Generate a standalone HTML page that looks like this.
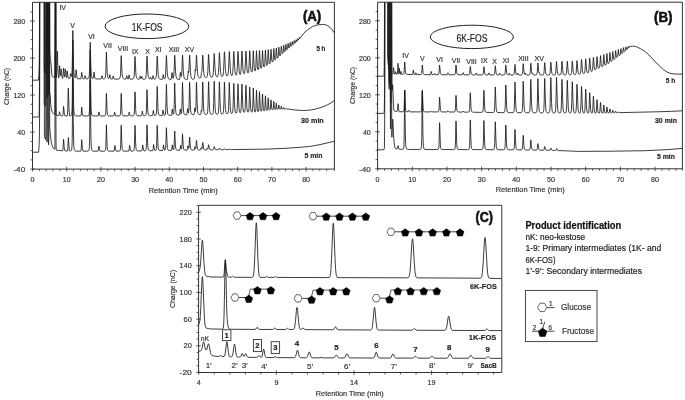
<!DOCTYPE html>
<html><head><meta charset="utf-8"><style>
html,body{margin:0;padding:0;background:#fff;width:685px;height:400px;overflow:hidden}
svg text{font-family:"Liberation Sans", sans-serif}
svg{will-change:transform}
</style></head><body>
<svg width="685" height="400" viewBox="0 0 685 400" style="display:block">
<defs>
<clipPath id="cA"><rect x="32.5" y="2.3" width="301.9" height="166.79999999999998"/></clipPath>
<clipPath id="cB"><rect x="377.6" y="2.2" width="304.79999999999995" height="166.60000000000002"/></clipPath>
<clipPath id="cC"><rect x="198.6" y="205.3" width="303.20000000000005" height="167.2"/></clipPath>
</defs>
<g clip-path="url(#cA)" fill="none" stroke="#1a1a1a" stroke-width="0.85" stroke-linejoin="round">
<path d="M32.50,80.20 38.26,80.15 38.50,79.06 38.86,75.54 39.22,67.39 39.46,37.72 39.58,-8.00 40.06,-301.35 40.18,-318.31 40.30,-324.73 40.54,-327.49 40.66,-327.49 41.50,-326.43 42.58,-325.38 43.42,-324.80 44.14,-324.54 44.26,69.83 44.74,71.98 45.34,73.31 45.46,73.42 45.58,73.11 45.70,70.33 45.82,56.87 46.30,-227.73 46.78,43.24 46.90,54.54 47.14,59.15 47.26,56.29 47.38,34.63 47.74,-214.62 47.86,-215.19 48.22,29.80 48.34,50.67 48.46,53.94 48.58,53.87 48.70,53.07 48.94,5.00 49.30,-229.85 49.78,42.97 49.90,53.50 50.02,55.18 50.38,59.37 50.74,61.08 51.94,75.17 52.06,75.99 52.30,76.62 53.14,76.92 54.58,77.19 54.70,77.12 54.82,76.32 54.94,71.33 55.18,-6.06 55.42,-199.49 55.54,-216.57 55.90,37.03 56.02,67.47 56.14,75.94 56.26,77.57 56.38,77.64 56.50,76.75 56.74,72.47 57.34,51.19 57.94,68.93 58.30,75.15 58.66,78.03 58.78,77.91 58.90,77.17 59.14,74.56 59.62,65.74 60.34,75.31 60.46,75.79 60.58,75.79 60.70,75.31 61.18,68.82 61.90,75.95 62.14,77.38 62.50,78.42 62.62,78.47 62.74,78.27 62.86,77.74 63.10,75.74 63.58,67.94 64.18,74.75 64.54,76.75 64.78,75.85 64.90,74.71 65.26,68.88 65.38,69.23 65.98,75.80 66.34,77.73 66.46,77.73 66.58,77.35 66.70,76.59 67.18,70.91 67.90,76.60 68.26,78.13 68.50,78.56 69.46,78.55 69.70,78.33 70.06,76.90 70.54,73.58 71.14,76.28 71.38,76.55 71.62,76.11 71.98,72.86 72.22,66.79 72.82,30.47 73.54,65.50 73.90,72.78 74.26,75.74 74.50,76.73 74.86,77.57 75.10,77.89 75.22,77.88 75.34,77.57 75.70,74.91 76.06,69.72 76.18,70.06 76.78,76.12 77.02,77.55 77.38,78.63 80.62,78.84 80.86,78.68 81.34,76.19 81.70,72.36 82.42,77.33 82.78,78.53 83.14,78.88 83.98,78.88 84.22,78.71 84.58,77.70 84.94,75.79 85.06,75.67 85.78,78.18 86.14,78.74 86.38,78.85 87.70,78.70 88.42,78.33 88.90,77.52 89.14,76.53 89.38,74.49 89.62,69.89 90.22,42.36 90.82,65.61 91.18,73.11 91.42,75.38 91.78,77.08 92.26,78.04 92.98,78.57 93.22,78.29 93.46,77.13 93.94,72.18 94.06,71.95 94.66,76.78 95.02,78.35 95.38,78.92 101.02,79.00 101.26,78.77 101.50,78.13 101.98,75.64 102.58,77.79 103.18,78.88 103.54,78.93 104.38,78.73 104.74,78.49 105.10,77.95 105.34,77.18 105.58,75.61 105.82,72.10 106.42,52.04 107.02,68.89 107.38,74.55 107.86,77.29 108.22,78.08 108.82,78.63 109.06,78.44 109.30,77.70 109.78,74.61 110.50,77.89 110.74,78.54 111.10,79.03 112.18,79.09 112.42,78.93 112.78,77.93 113.14,76.02 113.26,75.91 113.86,78.14 114.10,78.68 114.46,79.09 117.10,79.13 118.66,79.01 119.38,78.74 119.86,78.17 120.34,76.15 120.58,73.29 121.18,55.66 121.30,56.34 121.78,68.79 122.14,74.44 122.62,77.31 122.98,78.14 123.58,78.73 124.66,79.06 125.86,79.08 126.22,78.24 126.70,75.71 127.42,78.40 127.78,79.05 128.02,79.22 128.14,79.15 128.62,77.51 128.98,74.92 129.70,78.12 130.06,78.98 130.30,79.22 131.74,79.20 132.70,79.05 133.30,78.71 133.66,78.19 134.14,76.05 134.38,73.09 134.98,56.45 135.22,59.33 135.82,72.86 136.18,76.16 136.66,77.93 137.02,78.50 137.62,78.93 138.46,79.16 139.30,79.22 139.66,78.54 140.14,76.21 140.26,76.10 140.74,78.00 141.10,78.61 141.46,77.99 141.82,76.42 142.42,78.40 143.02,79.28 144.46,79.19 145.30,78.74 145.66,78.15 145.90,77.35 146.26,74.50 146.98,56.05 147.22,58.79 147.82,72.39 148.18,75.93 148.54,77.54 149.02,78.50 149.62,78.95 149.98,78.55 150.46,76.94 151.30,78.89 151.66,79.30 152.02,79.39 152.26,79.12 152.50,78.40 152.98,75.56 153.58,78.02 154.06,79.12 154.42,79.31 155.26,78.99 155.62,78.62 155.98,77.77 156.46,74.27 157.18,56.04 157.42,58.65 158.02,72.08 158.38,75.76 158.74,77.48 159.22,78.51 159.82,79.04 160.78,79.34 162.22,79.45 162.46,79.11 162.70,78.20 163.18,74.62 163.90,78.05 164.26,78.86 164.50,78.97 164.86,78.54 165.22,77.53 165.58,74.96 166.42,55.52 167.14,70.34 167.38,73.74 167.74,76.52 168.10,77.87 168.70,78.83 169.54,79.30 170.98,79.49 171.22,79.12 171.46,77.89 171.94,72.79 172.06,72.52 172.54,76.38 172.90,77.97 173.14,78.32 173.26,78.25 173.62,76.95 174.10,71.17 174.70,55.24 174.94,58.18 175.54,71.63 176.02,76.28 176.50,78.07 177.10,78.94 178.06,79.40 179.38,79.50 179.62,79.12 179.86,77.85 180.34,72.62 180.46,72.30 181.06,76.22 181.30,76.54 181.54,75.74 181.90,70.88 182.50,55.06 182.74,57.92 183.34,71.36 183.82,76.18 184.18,77.73 184.78,78.87 185.50,79.36 186.58,79.52 187.18,79.41 187.30,79.29 187.54,78.36 188.26,71.19 188.50,72.48 188.62,72.63 188.86,71.47 189.58,55.04 189.82,57.37 190.42,70.80 190.78,75.05 191.02,76.60 191.38,77.92 191.86,78.74 192.46,79.14 193.30,79.22 194.14,78.98 194.38,78.55 194.50,77.98 194.86,74.72 195.22,69.46 195.46,70.97 195.58,71.12 195.82,69.73 196.42,55.58 196.54,55.07 197.26,68.90 197.62,73.51 198.10,76.29 198.46,77.20 198.82,77.68 199.30,77.97 199.90,78.05 200.50,77.88 200.74,77.61 201.10,75.98 201.46,72.50 201.82,71.78 202.18,67.02 202.66,55.14 202.78,55.29 202.90,56.73 203.62,70.77 204.10,74.87 204.58,76.52 204.94,77.10 205.30,77.40 205.90,77.56 206.38,77.46 206.74,77.18 207.10,76.57 207.46,75.19 207.82,71.83 208.42,56.79 208.54,54.60 208.66,54.46 209.50,69.92 209.98,74.34 210.34,75.82 210.94,76.90 211.30,77.14 211.78,77.22 212.14,77.08 212.50,76.69 212.98,75.28 213.34,72.41 214.18,53.53 214.42,55.56 215.02,68.17 215.50,73.49 215.86,75.30 216.34,76.43 216.94,76.89 217.30,76.84 217.54,76.65 217.90,76.01 218.14,75.15 218.50,72.42 218.86,65.87 219.22,55.01 219.34,52.80 219.46,52.67 220.18,66.78 220.66,72.73 221.02,74.78 221.38,75.82 221.86,76.42 222.22,76.49 222.46,76.37 222.82,75.85 223.06,75.12 223.54,71.43 224.38,51.83 224.62,53.87 225.46,70.29 225.94,73.99 226.54,75.70 226.78,75.96 227.14,76.09 227.62,75.71 227.98,74.70 228.22,73.30 228.58,68.85 229.30,51.52 229.54,53.92 230.38,70.22 230.74,73.22 231.22,75.05 231.70,75.64 231.94,75.60 232.18,75.32 232.54,74.19 232.78,72.56 233.14,67.38 233.62,53.75 233.74,51.63 233.86,51.51 234.70,67.55 235.06,71.72 235.42,73.87 235.78,74.89 236.02,75.15 236.26,75.13 236.62,74.47 236.98,72.44 237.34,67.34 237.82,53.64 237.94,51.49 238.06,51.36 239.14,70.53 239.62,73.67 239.86,74.36 239.98,74.54 240.22,74.60 240.46,74.27 240.70,73.42 241.06,70.34 241.90,51.07 242.14,53.50 242.98,69.52 243.46,72.80 243.82,73.72 244.18,73.90 244.54,73.33 244.78,72.28 245.14,68.64 245.86,51.09 245.98,51.24 246.10,52.67 246.94,68.58 247.42,71.97 247.66,72.70 248.02,73.05 248.26,72.84 248.50,72.16 248.86,69.56 249.70,50.83 249.94,53.38 250.42,63.92 250.78,68.73 251.26,71.44 251.50,71.94 251.74,72.09 251.98,71.85 252.22,71.10 252.58,68.02 253.30,50.71 254.26,67.59 254.62,70.08 254.86,70.80 255.10,70.99 255.46,70.33 255.82,67.48 256.42,51.35 256.54,50.69 257.38,66.61 257.74,69.04 258.10,69.74 258.34,69.56 258.46,69.24 258.82,66.69 259.42,51.23 259.54,50.55 260.26,64.39 260.62,67.38 260.86,68.17 261.10,68.43 261.46,67.95 261.82,65.61 262.42,51.03 262.54,50.38 263.26,63.46 263.62,66.17 263.86,66.86 264.10,67.03 264.34,66.73 264.58,65.75 264.82,63.40 265.42,50.03 266.14,62.33 266.50,64.84 266.74,65.43 266.98,65.50 267.34,64.61 267.58,62.74 268.18,49.67 268.30,50.15 269.02,61.82 269.38,63.55 269.50,63.77 269.74,63.87 270.10,63.14 270.34,61.63 270.94,49.52 271.06,49.29 271.78,59.92 272.14,61.70 272.38,62.06 272.62,62.05 272.98,61.21 273.22,59.52 273.82,48.57 274.54,58.39 274.78,59.69 275.14,60.23 275.50,59.59 275.74,58.05 276.22,48.59 276.34,47.95 276.94,56.15 277.30,57.92 277.42,58.11 277.66,58.16 278.02,57.42 278.26,55.90 278.74,47.41 278.86,47.16 279.46,54.34 279.82,55.74 279.94,55.87 280.18,55.86 280.54,55.14 280.78,53.73 281.26,46.25 281.38,46.30 281.98,52.53 282.22,53.38 282.34,53.56 282.58,53.63 282.94,53.11 283.18,51.99 283.66,45.32 283.78,45.37 284.38,50.90 284.62,51.53 284.86,51.64 285.22,51.08 285.46,49.81 285.94,44.31 286.54,49.15 286.78,49.71 287.14,49.74 287.38,49.38 287.62,48.46 288.10,43.33 288.70,47.39 288.94,47.93 289.30,47.94 289.54,47.58 289.78,46.61 290.14,42.67 290.26,42.48 290.74,45.71 290.98,46.25 291.34,46.25 291.58,45.89 291.82,44.92 292.18,41.57 292.30,41.75 292.78,44.41 293.02,44.72 293.38,44.61 293.74,43.89 294.22,40.63 294.70,42.77 294.94,43.12 295.30,43.03 295.66,42.37 296.14,39.66 296.62,41.35 296.86,41.51 297.10,41.39 297.46,40.80 297.94,38.42 298.30,39.55 298.54,39.80 298.78,39.71 299.26,38.97 299.62,37.26 299.74,37.24 300.10,37.93 300.46,37.84 303.70,33.48 305.02,31.98 308.02,29.48 312.46,26.53 316.54,25.21 317.98,24.94 322.66,24.41 323.98,24.46 325.42,24.70 327.70,25.72 330.10,27.49 332.26,29.93 334.30,32.88"/>
<path d="M32.50,117.00 38.38,117.00 38.86,116.84 39.10,115.25 39.22,111.35 39.46,86.78 39.58,51.43 40.06,-253.27 40.30,-287.25 40.42,-290.52 40.54,-291.39 40.66,-291.42 41.02,-290.98 44.14,-291.00 44.26,103.06 44.62,104.83 44.98,105.74 45.34,105.99 45.46,105.93 45.58,105.47 45.82,88.93 46.30,-194.88 46.78,83.81 46.90,95.77 47.02,97.68 47.14,97.19 47.38,68.24 47.74,-182.47 47.86,-182.55 48.22,67.42 48.34,90.62 48.46,95.31 48.58,94.62 48.70,90.70 48.94,34.74 49.42,-277.92 49.54,92.91 49.66,93.31 49.90,93.26 50.02,93.51 50.14,94.48 50.74,104.56 51.22,108.22 51.94,111.05 52.54,112.37 53.14,113.32 53.98,114.23 54.70,114.63 54.82,113.87 54.94,108.91 55.18,31.56 55.42,-161.86 55.54,-178.94 55.90,74.63 56.02,105.05 56.14,113.50 56.26,115.11 56.38,115.34 58.06,115.64 58.66,115.60 59.02,114.65 59.50,111.76 59.98,114.05 60.58,115.58 60.94,115.80 62.62,115.82 62.86,115.15 63.10,113.33 63.58,106.23 64.18,112.42 64.42,114.13 64.78,115.61 65.02,115.85 67.30,115.88 67.54,114.15 67.78,108.97 68.26,88.23 68.38,89.21 68.98,107.95 69.46,115.00 69.70,115.87 70.54,115.81 71.26,115.44 71.62,114.61 71.98,111.34 72.22,103.69 72.82,40.14 73.30,85.93 73.66,106.27 73.90,111.23 74.26,114.13 74.74,115.32 75.10,115.62 75.58,115.80 77.02,115.92 80.74,115.95 80.98,115.28 81.22,113.59 81.70,107.17 82.30,113.10 82.66,115.10 83.02,115.95 88.06,115.88 88.66,115.58 89.02,114.86 89.38,112.01 89.62,105.36 90.22,50.12 90.70,89.92 91.06,107.60 91.30,111.91 91.66,114.43 92.14,115.46 92.98,115.87 94.90,115.99 98.02,115.93 98.38,114.96 98.86,111.85 98.98,112.00 99.58,114.81 99.94,115.70 100.18,115.97 104.38,115.95 104.98,115.79 105.34,115.39 105.58,114.56 105.82,112.20 106.42,93.34 107.14,111.62 107.50,114.52 107.74,115.22 108.10,115.67 108.58,115.87 109.30,115.95 113.62,115.97 113.86,115.71 114.10,115.00 114.58,112.23 115.30,114.99 115.66,115.74 115.90,115.95 119.26,115.88 119.74,115.74 120.10,115.34 120.46,113.77 120.70,110.21 121.18,93.37 121.30,94.22 121.90,110.60 122.14,113.33 122.38,114.61 122.62,115.22 122.98,115.62 123.70,115.85 128.26,115.88 128.50,115.54 128.74,114.76 129.22,112.10 129.82,114.68 130.18,115.53 130.42,115.82 132.58,115.83 133.54,115.61 133.78,115.36 134.02,114.79 134.38,111.80 134.98,91.77 135.10,92.62 135.70,109.75 135.94,112.81 136.18,114.28 136.42,114.99 136.78,115.46 137.50,115.73 141.34,115.79 141.58,115.43 141.82,114.54 142.30,111.18 142.90,114.28 143.38,115.53 143.74,115.76 144.82,115.70 145.42,115.53 145.78,115.16 146.02,114.48 146.38,111.04 146.98,89.57 147.10,90.44 147.70,108.74 147.94,112.20 148.30,114.37 148.66,115.14 149.26,115.54 150.34,115.67 152.38,115.65 152.74,114.60 153.34,110.39 153.82,113.45 154.30,115.19 154.66,115.62 155.50,115.45 155.98,114.94 156.22,114.13 156.58,110.13 157.18,86.58 157.42,90.93 157.90,107.52 158.14,111.47 158.50,114.01 158.86,114.92 159.46,115.40 160.54,115.56 162.10,115.51 162.46,114.30 162.94,110.26 163.06,110.06 163.78,114.34 164.14,115.27 164.38,115.43 164.62,115.34 165.10,114.88 165.34,114.19 165.70,110.92 166.42,84.36 167.14,107.40 167.62,113.22 167.98,114.51 168.46,115.09 169.42,115.35 171.34,115.35 171.58,114.86 171.82,113.66 172.30,109.09 172.78,112.50 173.26,114.22 173.38,114.31 173.50,114.23 173.62,113.91 173.86,112.27 174.22,104.27 174.70,83.02 175.30,102.73 175.66,110.44 175.90,112.66 176.26,114.13 176.74,114.80 177.58,115.08 179.26,115.10 179.50,114.83 179.86,113.03 180.34,108.89 180.70,111.75 181.06,113.43 181.30,113.70 181.54,112.90 181.90,107.59 182.50,82.55 183.22,105.51 183.46,109.96 183.70,112.27 184.06,113.81 184.54,114.53 185.38,114.83 186.58,114.86 186.82,114.52 187.18,112.53 187.54,108.73 187.66,108.56 188.26,112.75 188.38,113.00 188.50,112.98 188.74,111.70 189.10,103.90 189.58,82.35 189.82,86.65 190.30,104.51 190.66,110.74 190.90,112.54 191.26,113.78 191.74,114.37 192.58,114.64 193.90,114.65 194.14,114.45 194.50,112.38 194.86,107.95 195.34,111.22 195.46,111.51 195.58,111.29 195.70,110.41 195.94,105.53 196.42,83.12 196.54,82.16 197.14,102.36 197.50,109.75 197.74,111.95 198.10,113.47 198.58,114.19 199.42,114.52 200.26,114.53 200.62,114.38 200.86,113.57 201.34,110.20 201.58,111.22 201.70,111.21 201.94,109.52 202.18,103.79 202.66,81.93 202.78,82.26 202.90,85.20 203.38,103.14 203.74,109.98 203.98,112.03 204.34,113.45 204.82,114.15 205.54,114.44 206.50,114.41 207.10,114.02 207.46,113.09 207.70,111.46 208.06,104.16 208.42,86.34 208.54,81.95 208.66,81.67 209.26,102.19 209.62,109.52 209.86,111.75 210.22,113.31 210.70,114.07 211.42,114.38 212.26,114.31 212.74,113.90 213.10,112.81 213.34,110.88 213.70,102.40 214.18,81.27 214.42,85.31 214.90,103.07 215.26,109.83 215.50,111.89 215.86,113.35 216.34,114.06 216.94,114.30 217.54,114.22 218.02,113.69 218.26,112.93 218.50,111.23 218.86,103.77 219.22,86.30 219.34,82.10 219.46,81.83 220.06,101.80 220.42,109.21 220.66,111.51 221.02,113.14 221.38,113.80 221.98,114.15 222.58,114.06 223.06,113.46 223.30,112.58 223.54,110.61 223.90,102.21 224.38,82.07 224.62,85.84 225.10,102.81 225.46,109.47 225.94,112.65 226.30,113.45 226.90,113.86 227.50,113.78 227.98,113.14 228.22,112.20 228.46,110.10 228.70,105.36 229.30,82.52 230.26,107.93 230.74,112.01 231.10,113.03 231.34,113.33 231.70,113.51 232.18,113.36 232.54,112.71 232.78,111.58 233.02,109.03 233.74,83.56 233.86,83.32 234.46,101.47 234.82,108.54 235.30,112.01 235.66,112.86 236.02,113.15 236.38,113.08 236.74,112.47 236.98,111.36 237.22,108.83 237.94,83.99 238.06,83.76 238.66,101.39 239.02,108.35 239.50,111.77 239.74,112.40 240.10,112.75 240.46,112.57 240.82,111.54 241.18,107.88 241.90,84.02 242.86,107.50 243.34,111.19 243.70,112.06 244.06,112.33 244.42,112.21 244.78,111.41 245.14,108.49 245.86,85.26 245.98,85.52 246.10,87.86 246.82,107.18 247.30,111.04 247.66,111.97 248.02,112.25 248.38,112.06 248.62,111.50 248.98,108.73 249.70,87.07 250.66,108.59 251.14,111.46 251.38,111.95 251.74,112.21 252.10,112.00 252.34,111.35 252.70,107.81 253.30,88.13 254.14,108.22 254.50,111.03 254.74,111.76 255.10,112.13 255.34,112.03 255.58,111.53 255.94,108.34 256.42,91.21 256.54,90.25 257.26,108.23 257.62,110.91 257.86,111.51 258.10,111.72 258.34,111.65 258.58,111.23 258.94,108.47 259.42,92.58 259.54,91.64 260.26,108.26 260.62,110.54 260.86,111.03 261.10,111.19 261.34,111.14 261.58,110.79 261.94,108.52 262.42,94.81 262.54,93.98 263.26,108.38 263.62,110.27 263.86,110.67 264.10,110.78 264.34,110.69 264.58,110.26 264.82,108.89 265.42,95.82 266.14,108.38 266.50,110.00 266.74,110.33 266.98,110.40 267.22,110.27 267.46,109.76 267.70,108.12 268.18,97.85 268.90,108.17 269.26,109.69 269.50,109.99 269.74,110.07 269.98,109.99 270.22,109.64 270.46,108.52 270.94,99.98 271.06,99.80 271.66,107.93 271.90,109.10 272.14,109.57 272.38,109.75 272.86,109.69 273.22,108.92 273.82,101.39 274.42,108.03 274.66,109.03 275.02,109.49 275.50,109.41 275.74,108.93 276.34,103.13 276.94,108.42 277.18,109.04 277.54,109.30 278.02,109.22 278.26,108.85 278.74,105.07 278.86,104.98 279.34,108.23 279.58,108.88 280.06,109.20 280.54,109.15 280.78,108.87 281.26,106.16 281.38,106.23 281.86,108.55 282.10,108.96 282.46,109.14 282.94,109.14 283.18,109.02 283.66,107.49 283.78,107.53 284.26,108.85 284.74,109.11 285.46,109.04 285.94,108.47 286.42,108.99 286.78,109.09 289.30,109.16 294.70,109.97 301.66,110.50 306.34,110.38 309.94,110.11 314.86,109.22 318.70,108.20 323.02,106.73 327.58,104.77 330.94,102.94 334.30,100.65"/>
<path d="M32.50,152.20 38.50,152.20 38.74,150.85 38.98,147.69 39.34,139.66 39.58,116.36 39.70,78.63 40.06,-174.63 40.30,-244.40 40.42,-253.05 40.54,-256.35 40.78,-258.11 41.02,-258.42 41.62,-258.63 44.02,-258.99 44.26,-259.00 44.38,135.46 45.10,138.51 45.46,139.52 45.58,139.42 45.70,136.83 45.82,123.60 46.30,-158.58 46.78,125.42 46.90,139.10 47.02,142.02 47.14,141.48 47.38,110.18 47.74,-142.81 47.86,-142.56 48.22,111.93 48.34,137.37 48.46,143.98 48.58,144.80 48.82,137.42 48.94,118.71 49.30,-145.57 49.54,-239.91 49.66,126.40 50.38,135.14 51.22,141.58 51.70,143.95 52.18,145.61 52.78,147.08 53.50,148.27 54.22,149.04 54.70,149.30 54.82,148.55 54.94,143.60 55.18,66.27 55.42,-127.14 55.54,-144.21 55.90,109.38 56.02,139.81 56.14,148.27 56.26,149.87 56.38,150.11 58.42,150.46 62.62,150.75 62.86,149.95 63.10,147.78 63.58,139.28 64.18,146.71 64.42,148.78 64.78,150.56 65.02,150.87 67.42,150.96 67.66,150.02 67.90,147.48 68.38,137.55 68.98,146.21 69.34,149.50 69.58,150.67 69.82,151.02 70.90,150.88 71.38,150.47 71.62,149.84 71.98,146.70 72.22,139.33 72.82,78.14 73.30,122.24 73.66,141.84 73.90,146.62 74.26,149.42 74.74,150.56 75.10,150.86 75.58,151.03 77.14,151.17 80.74,151.18 80.98,150.30 81.22,148.09 81.70,139.70 82.42,148.49 82.78,150.60 83.02,151.16 88.06,151.09 88.66,150.76 89.02,149.98 89.38,146.91 89.62,139.73 90.22,80.13 90.70,123.07 91.06,142.15 91.30,146.79 91.66,149.51 92.14,150.62 92.86,151.04 94.78,151.19 98.02,151.12 98.38,149.93 98.86,146.13 98.98,146.31 99.58,149.75 99.94,150.84 100.18,151.16 104.38,151.14 104.98,150.96 105.34,150.49 105.58,149.52 105.82,146.76 106.42,124.75 107.02,143.77 107.26,147.69 107.50,149.48 107.86,150.54 108.34,150.97 109.18,151.15 113.98,151.16 114.34,150.04 114.94,145.54 115.54,149.43 115.90,150.71 116.14,151.12 119.26,151.12 119.74,150.96 120.10,150.51 120.46,148.70 120.70,144.62 121.18,125.28 121.30,126.25 121.78,142.41 122.14,148.21 122.38,149.68 122.74,150.58 123.22,150.97 124.06,151.14 128.50,151.15 128.74,151.03 129.22,148.84 129.58,145.38 130.18,149.07 130.78,150.97 131.02,151.12 133.06,151.01 133.54,150.82 133.90,150.31 134.26,148.35 134.50,144.08 134.98,125.27 135.22,129.49 135.58,141.83 135.94,147.81 136.18,149.37 136.54,150.36 137.02,150.78 137.86,150.96 141.70,150.94 141.82,150.85 142.30,148.59 142.66,144.93 142.78,145.14 143.38,149.19 143.86,150.70 144.10,150.88 145.18,150.75 145.66,150.45 145.90,150.01 146.26,147.90 146.50,143.43 146.98,124.87 147.22,128.91 147.58,141.12 147.94,147.31 148.18,148.99 148.54,150.05 149.02,150.53 149.86,150.72 152.62,150.73 152.74,150.60 153.22,148.22 153.58,144.47 154.18,148.46 154.66,150.28 154.90,150.61 155.38,150.55 155.86,150.23 156.10,149.77 156.34,148.67 156.58,145.85 157.18,125.27 157.42,129.07 157.90,143.55 158.14,147.00 158.38,148.72 158.74,149.83 159.22,150.33 160.06,150.54 162.58,150.52 162.94,149.39 163.54,144.88 164.02,148.14 164.50,149.94 164.86,150.28 165.34,149.55 165.58,148.34 165.82,145.28 166.42,127.73 167.02,142.33 167.38,147.42 167.62,148.85 167.98,149.79 168.46,150.22 169.30,150.41 171.22,150.43 171.46,150.29 171.94,148.16 172.30,144.89 173.02,149.16 173.38,149.84 173.50,149.80 173.74,149.19 174.10,146.10 174.70,131.00 175.42,144.88 175.78,148.27 176.02,149.22 176.38,149.86 176.86,150.16 177.70,150.29 179.62,150.30 179.74,150.20 180.22,148.34 180.58,145.42 181.18,148.59 181.42,149.05 181.66,148.60 182.02,144.50 182.50,133.80 183.22,145.45 183.58,148.39 183.82,149.22 184.18,149.79 184.66,150.07 185.50,150.19 186.94,150.19 187.18,150.03 187.54,148.83 188.02,145.70 188.50,148.26 188.62,148.48 188.74,148.44 188.86,148.06 189.10,145.76 189.58,137.03 189.82,138.77 190.30,146.00 190.66,148.52 190.90,149.25 191.26,149.75 191.74,149.98 192.70,150.09 194.02,150.08 194.26,149.96 194.62,148.87 194.98,146.61 195.46,148.53 195.58,148.68 195.70,148.59 195.94,147.36 196.42,140.73 196.54,140.45 197.14,146.42 197.62,148.99 197.98,149.60 198.34,149.84 199.78,150.01 200.38,149.98 200.62,149.67 201.22,147.48 201.58,148.70 201.82,148.92 201.94,148.75 202.18,147.54 202.66,142.56 202.78,142.64 202.90,143.31 203.50,148.05 203.86,149.20 204.22,149.64 204.58,149.81 206.02,149.93 206.62,149.79 207.22,148.38 207.58,149.09 207.82,149.05 208.06,148.28 208.54,144.80 208.66,144.75 209.26,147.96 209.62,149.11 210.10,149.64 210.94,149.83 212.62,149.81 213.34,149.48 213.70,148.63 214.18,146.51 214.42,146.91 215.14,149.19 215.62,149.62 216.46,149.77 217.90,149.76 218.50,149.61 218.86,149.20 219.22,148.26 219.46,148.02 220.06,149.08 220.42,149.47 220.90,149.66 221.62,149.72 223.54,149.60 223.90,149.33 224.38,148.70 225.34,149.49 226.54,149.66 228.46,149.59 229.30,149.20 230.26,149.54 231.46,149.60 232.90,149.57 233.86,149.39 236.02,149.55 266.02,149.11 286.66,148.25 302.62,147.10 309.46,146.46 313.90,145.80 320.98,144.40 334.30,141.25"/>
</g>
<g clip-path="url(#cB)" fill="none" stroke="#1a1a1a" stroke-width="0.85" stroke-linejoin="round">
<path d="M377.60,76.20 383.24,76.20 383.72,76.09 383.96,75.36 384.08,73.93 384.20,70.09 384.44,35.09 385.04,-301.65 385.16,-315.44 385.40,-322.84 385.52,-323.64 385.76,-324.15 387.44,-325.30 387.56,57.52 388.16,64.08 388.76,67.93 388.88,68.29 389.00,68.34 389.12,67.95 389.48,65.23 389.60,65.06 390.08,69.26 390.20,69.36 390.56,67.68 390.68,67.96 391.16,72.30 391.40,73.17 391.76,73.48 392.60,73.75 392.84,73.79 392.96,73.55 393.20,72.13 393.56,67.62 394.16,72.33 394.52,73.88 394.76,74.09 395.12,74.02 395.60,71.66 395.96,73.28 396.32,74.10 397.16,74.24 397.28,74.14 397.64,70.94 398.00,63.28 398.48,70.80 398.84,73.67 398.96,73.67 399.08,72.90 399.44,68.40 399.80,72.34 400.16,74.20 400.40,74.36 400.64,73.89 401.00,71.38 401.36,73.30 401.72,74.27 401.96,74.39 402.80,74.36 403.52,74.12 403.88,73.46 404.12,72.07 404.72,62.02 405.32,70.64 405.56,72.55 406.04,73.91 406.52,74.27 407.24,74.42 412.52,74.54 412.88,73.42 413.24,70.27 413.36,70.08 413.84,73.26 414.08,74.14 414.32,74.53 415.40,74.52 415.64,73.93 415.88,72.71 416.36,74.10 416.72,74.57 420.08,74.59 421.04,74.43 421.28,74.24 421.52,73.76 421.76,72.47 422.24,65.16 422.36,65.05 423.08,72.77 423.32,73.69 423.80,74.35 424.28,74.54 425.12,74.63 430.40,74.69 430.76,73.99 431.24,71.45 431.72,73.73 432.20,74.68 434.12,74.72 434.36,74.49 434.72,73.57 435.20,74.49 435.56,74.72 438.20,74.61 438.68,74.20 439.04,72.72 439.52,65.37 439.64,64.97 440.36,72.74 440.60,73.73 441.08,74.44 441.56,74.64 442.28,74.72 447.08,74.78 447.44,74.40 447.92,72.80 448.04,72.86 448.64,74.37 449.12,74.79 454.40,74.73 455.00,74.35 455.36,73.18 455.96,65.01 456.08,65.14 456.80,72.86 457.28,74.27 458.00,74.71 462.32,74.85 462.68,74.36 463.16,72.70 463.64,74.10 464.00,74.68 464.24,74.85 467.96,74.87 469.04,74.68 469.40,74.27 469.64,73.48 470.24,66.60 470.36,66.51 471.08,72.98 471.44,74.15 472.04,74.71 473.24,74.88 475.52,74.87 475.88,74.26 476.24,72.94 476.36,73.00 476.96,74.51 477.44,74.93 481.64,74.92 482.36,74.84 482.72,74.67 483.08,74.09 483.32,72.97 483.92,66.61 484.64,72.73 485.00,74.08 485.36,74.58 486.20,74.89 488.00,74.95 488.36,74.41 488.84,72.92 489.32,74.27 489.56,74.69 489.92,74.98 493.64,74.90 494.24,74.52 494.60,73.48 495.32,65.81 496.04,72.43 496.40,73.97 496.76,74.55 497.48,74.90 498.92,74.98 499.28,74.47 499.76,73.18 500.24,74.40 500.72,74.98 503.72,74.99 504.56,74.70 504.80,74.37 505.04,73.62 505.28,71.86 505.76,65.19 505.88,65.29 506.00,66.23 506.60,72.54 506.84,73.67 507.20,74.45 507.68,74.82 508.52,74.96 508.88,74.44 509.24,73.28 509.36,73.25 509.84,74.45 510.32,75.01 512.84,75.02 513.44,74.90 513.80,74.64 514.04,74.21 514.28,73.25 515.00,64.40 515.72,71.68 515.96,73.19 516.32,74.26 516.68,74.70 517.04,74.75 517.76,73.20 518.24,74.44 518.72,75.02 521.00,75.04 521.60,74.91 521.96,74.66 522.20,74.24 522.44,73.30 522.68,71.18 523.16,63.70 523.28,63.81 523.40,64.82 524.00,71.99 524.48,74.09 524.72,74.45 524.96,74.37 525.44,73.12 526.04,74.48 526.52,75.04 528.44,75.07 529.16,74.93 529.52,74.68 529.76,74.28 530.00,73.40 530.24,71.42 530.72,63.48 530.84,63.15 531.56,71.45 531.92,73.40 532.16,73.62 532.52,72.92 532.64,72.98 533.12,74.38 533.60,75.01 535.52,75.08 536.24,74.94 536.60,74.69 536.84,74.30 537.08,73.44 537.32,71.54 537.92,63.01 538.64,71.10 538.88,72.49 539.12,72.86 539.36,72.51 539.96,74.32 540.44,74.99 542.24,75.09 542.96,74.97 543.32,74.76 543.80,73.71 544.16,70.80 544.64,62.72 544.76,62.62 545.48,71.27 545.84,73.45 546.20,74.37 546.68,74.84 547.40,75.05 548.48,75.08 549.08,74.96 549.44,74.71 549.92,73.52 550.28,70.26 550.76,62.10 550.88,62.21 551.00,63.26 551.60,71.22 551.96,73.41 552.32,74.34 552.68,74.74 553.28,75.00 554.24,75.05 554.84,74.90 555.20,74.59 555.44,74.10 555.68,73.07 556.52,61.51 557.24,70.38 557.60,73.02 557.96,74.16 558.32,74.65 558.92,74.95 559.76,75.01 560.36,74.86 560.72,74.51 560.96,73.97 561.20,72.82 561.44,70.37 561.92,61.59 562.04,61.25 562.76,70.39 563.12,73.00 563.36,73.85 563.72,74.49 564.20,74.84 565.04,74.97 565.64,74.82 566.00,74.49 566.24,73.97 566.48,72.87 567.32,61.21 568.04,70.08 568.40,72.82 568.64,73.72 569.00,74.41 569.48,74.77 570.20,74.87 570.68,74.73 571.04,74.35 571.28,73.74 571.52,72.46 572.12,62.79 572.24,61.22 572.36,61.12 573.32,72.22 573.56,73.34 573.92,74.17 574.28,74.53 574.88,74.69 575.36,74.56 575.72,74.17 575.96,73.57 576.20,72.31 576.92,60.89 577.04,60.55 577.76,69.65 578.12,72.37 578.36,73.27 578.72,73.94 579.08,74.20 579.56,74.26 579.92,74.11 580.28,73.63 580.64,72.21 580.88,69.91 581.48,59.53 581.72,61.01 582.44,70.67 582.68,72.10 583.04,73.18 583.52,73.67 584.00,73.65 584.36,73.32 584.72,72.30 585.08,69.30 585.68,58.93 585.92,60.37 586.40,67.53 586.76,70.75 587.24,72.42 587.60,72.82 587.96,72.88 588.32,72.64 588.56,72.22 588.92,70.54 589.64,58.26 589.76,58.12 590.60,68.96 591.08,71.06 591.32,71.40 591.68,71.50 592.04,71.27 592.28,70.85 592.64,69.26 593.36,57.33 593.48,57.42 593.60,58.57 594.32,67.86 594.80,69.51 595.04,69.75 595.40,69.77 595.76,69.47 596.00,68.96 596.36,66.89 596.96,56.63 597.08,56.71 597.20,57.85 597.56,63.26 597.92,66.59 598.16,67.57 598.40,68.04 598.64,68.23 599.00,68.21 599.48,67.62 599.84,65.90 600.44,55.79 600.56,55.62 601.16,63.45 601.40,65.29 601.76,66.45 602.00,66.71 602.36,66.73 602.84,66.15 603.20,64.30 603.80,54.50 604.64,63.84 605.00,65.02 605.24,65.25 605.48,65.28 605.96,64.75 606.32,62.98 606.92,53.51 607.64,61.94 608.00,63.29 608.24,63.53 608.48,63.52 608.96,62.99 609.32,61.39 609.92,52.50 610.64,60.24 610.88,61.14 611.12,61.46 611.36,61.51 611.84,61.08 612.20,59.81 612.80,51.50 613.52,58.44 613.76,59.23 614.00,59.49 614.24,59.50 614.72,59.01 615.08,57.53 615.56,50.65 615.68,50.70 616.28,56.54 616.52,57.29 616.76,57.51 617.00,57.49 617.48,56.97 617.72,56.18 618.32,49.50 618.92,54.56 619.16,55.31 619.52,55.53 620.00,55.18 620.36,54.20 620.84,48.78 620.96,48.58 621.44,52.49 621.68,53.31 622.04,53.54 622.52,53.20 622.88,52.32 623.36,47.63 623.48,47.64 623.96,50.95 624.20,51.50 624.56,51.57 625.04,51.16 625.28,50.63 625.76,46.91 625.88,46.90 626.36,49.38 626.72,49.73 627.20,49.46 627.56,48.97 628.04,46.47 628.16,46.32 628.52,47.53 628.64,47.75 628.88,47.87 629.72,47.24 630.32,45.99 630.92,46.54 632.48,46.24 633.44,46.21 635.12,46.43 636.80,46.83 641.84,49.50 644.84,51.39 647.00,53.13 650.00,56.00 655.64,62.17 661.04,67.47 663.68,69.76 667.04,72.04 669.92,73.22 672.08,73.76 677.24,74.09 682.40,74.20"/>
<path d="M377.60,113.40 383.84,113.34 384.08,112.97 384.20,112.23 384.32,110.24 384.56,91.18 384.68,58.26 385.04,-191.63 385.28,-270.47 385.40,-280.55 385.64,-285.86 385.76,-286.41 386.00,-286.72 388.28,-287.40 388.40,57.01 389.24,83.01 389.36,83.97 389.48,77.87 389.96,-198.59 390.08,-180.00 390.44,73.89 390.56,95.61 390.68,101.48 390.80,102.52 390.92,99.50 391.16,34.27 391.52,-193.98 392.00,83.09 392.12,90.50 392.48,85.16 392.60,84.65 392.72,85.54 393.56,106.73 393.80,109.44 394.16,110.83 394.52,111.14 395.24,111.33 396.92,111.55 397.16,111.37 397.64,108.35 398.00,103.66 398.60,109.10 398.96,110.95 399.20,111.60 399.44,111.77 402.68,111.78 403.28,111.65 403.64,111.28 403.88,110.53 404.12,108.35 404.72,90.24 405.44,107.83 405.68,109.94 405.92,110.89 406.16,111.34 406.76,111.72 407.96,111.80 408.32,111.45 408.80,110.36 409.40,111.38 409.76,111.72 410.12,111.87 419.72,111.90 420.56,111.83 421.04,111.62 421.28,111.27 421.52,110.36 421.76,107.69 422.24,90.46 422.36,90.16 423.08,108.30 423.44,110.70 423.80,111.45 424.28,111.76 425.60,111.90 430.40,111.92 430.76,111.68 431.36,110.84 431.96,111.60 432.56,111.93 437.48,111.92 438.08,111.85 438.44,111.68 438.80,110.98 439.04,109.33 439.52,97.78 439.64,97.11 440.36,109.35 440.60,110.72 441.08,111.62 441.56,111.84 442.28,111.93 446.96,111.98 447.44,111.64 447.92,110.82 448.52,111.62 449.24,111.99 453.68,112.00 454.64,111.84 454.88,111.63 455.12,111.12 455.48,108.21 455.96,95.41 456.08,95.65 456.68,107.94 456.92,110.07 457.16,111.06 457.40,111.53 457.76,111.83 458.48,112.01 462.20,112.11 462.68,111.84 463.16,111.02 463.88,111.82 464.48,112.13 467.84,112.16 468.80,112.02 469.28,111.47 469.64,109.46 470.24,93.01 470.36,92.78 470.96,106.75 471.20,109.53 471.44,110.86 471.68,111.50 472.16,111.99 473.24,112.22 480.44,112.36 482.12,112.27 482.60,112.00 482.84,111.59 483.20,109.52 483.92,90.23 484.64,107.22 484.88,109.80 485.24,111.42 485.72,112.09 486.56,112.37 491.36,112.51 493.40,112.42 493.88,112.19 494.24,111.53 494.60,108.99 495.32,86.94 496.04,106.23 496.28,109.32 496.64,111.30 497.12,112.14 497.96,112.49 501.68,112.62 503.84,112.52 504.32,112.28 504.68,111.66 505.04,109.34 505.28,104.66 505.76,84.98 505.88,85.30 506.00,88.17 506.60,106.52 507.08,110.94 507.56,112.09 508.28,112.52 510.44,112.69 512.96,112.60 513.44,112.38 513.80,111.81 514.04,110.80 514.28,108.32 515.00,82.10 515.72,104.05 515.96,108.17 516.32,110.92 516.68,111.94 517.04,112.36 517.40,112.55 518.96,112.75 521.12,112.67 521.60,112.45 521.96,111.90 522.20,110.95 522.44,108.65 522.68,103.07 523.16,81.29 523.28,81.64 523.40,84.69 524.00,105.26 524.48,110.61 524.84,111.85 525.44,112.53 526.64,112.78 528.68,112.73 529.16,112.51 529.52,111.97 529.76,111.05 530.00,108.88 530.36,98.96 530.72,80.38 530.84,79.37 531.56,103.71 532.04,110.19 532.40,111.71 532.64,112.18 533.00,112.53 534.08,112.83 535.76,112.78 536.24,112.56 536.60,112.02 536.84,111.10 537.08,108.98 537.32,103.91 537.92,78.64 538.64,102.83 539.12,109.94 539.48,111.63 539.96,112.45 540.32,112.69 540.92,112.85 542.48,112.86 543.08,112.56 543.44,111.91 543.68,110.81 543.92,108.22 544.16,102.18 544.64,78.66 544.76,78.36 545.36,100.14 545.84,109.16 546.20,111.37 546.68,112.42 547.40,112.86 548.60,112.92 549.20,112.60 549.56,111.86 549.80,110.61 550.04,107.70 550.76,77.59 550.88,77.94 551.00,81.05 551.60,103.60 551.96,109.22 552.32,111.43 552.68,112.33 553.04,112.72 553.40,112.90 554.36,112.96 554.84,112.71 555.20,112.09 555.44,111.03 555.68,108.61 555.92,103.04 556.52,77.34 557.48,106.95 557.72,109.71 558.08,111.65 558.56,112.61 559.16,112.97 560.00,112.98 560.48,112.62 560.84,111.67 561.08,110.01 561.44,102.77 561.92,80.26 562.04,79.35 562.64,99.43 563.00,107.48 563.24,110.01 563.60,111.81 564.08,112.70 564.68,113.04 565.40,113.00 565.88,112.52 566.24,111.21 566.48,108.89 566.72,103.63 567.20,81.85 567.32,80.34 568.28,107.32 568.52,109.96 568.88,111.85 569.24,112.63 569.84,113.07 570.44,113.06 570.92,112.53 571.16,111.75 571.40,110.01 571.76,102.56 572.24,81.94 572.36,81.70 572.96,100.68 573.32,108.04 573.80,111.68 574.16,112.62 574.76,113.13 575.36,113.02 575.72,112.43 575.96,111.42 576.20,109.12 576.44,104.02 576.92,84.96 577.04,84.22 578.00,108.23 578.48,111.80 578.84,112.72 579.44,113.19 579.80,113.14 580.16,112.71 580.40,111.93 580.64,110.16 581.00,102.84 581.48,86.35 581.72,89.38 582.20,103.46 582.56,109.31 583.04,112.22 583.40,112.96 583.76,113.22 584.12,113.15 584.48,112.58 584.72,111.51 584.96,109.09 585.68,89.14 585.92,91.84 586.40,104.45 586.76,109.75 587.24,112.40 587.60,113.07 587.96,113.29 588.32,113.14 588.56,112.72 588.92,110.71 589.16,106.96 589.64,92.79 589.76,92.62 590.60,109.32 591.08,112.36 591.44,113.08 591.80,113.29 592.16,113.11 592.40,112.61 592.76,110.11 593.36,96.16 593.48,96.35 593.60,98.02 593.96,105.83 594.32,110.57 594.68,112.41 595.04,113.07 595.40,113.27 595.76,113.16 596.00,112.80 596.36,110.91 596.96,99.64 597.08,99.79 597.20,101.20 597.56,107.56 597.92,111.27 598.28,112.65 598.64,113.13 599.00,113.26 599.48,112.99 599.84,111.73 600.44,102.56 600.56,102.44 601.28,111.06 601.64,112.59 602.00,113.10 602.36,113.24 602.84,113.03 603.20,111.96 603.80,105.00 604.52,111.47 604.88,112.70 605.12,113.00 605.48,113.15 605.96,113.02 606.32,112.23 606.92,107.01 607.64,112.02 608.00,112.79 608.60,113.04 609.08,112.88 609.32,112.47 609.92,108.91 610.64,112.31 611.00,112.79 611.48,112.92 611.96,112.83 612.20,112.61 612.80,110.20 613.52,112.42 613.88,112.73 614.36,112.80 614.84,112.73 615.08,112.54 615.56,111.23 615.68,111.25 616.28,112.47 616.64,112.66 617.12,112.69 617.84,112.50 618.32,111.80 618.92,112.46 619.64,112.61 659.00,111.76 671.60,111.34 682.40,110.80"/>
<path d="M377.60,149.80 383.96,149.73 384.20,149.29 384.32,148.42 384.44,146.07 384.68,123.81 384.80,86.25 385.16,-166.77 385.40,-236.45 385.52,-245.06 385.76,-249.56 385.88,-250.02 386.12,-250.27 388.40,-250.72 388.52,50.91 388.88,76.32 389.12,88.56 389.24,89.19 389.36,73.58 389.72,-164.09 389.84,-177.79 390.20,84.09 390.44,127.05 390.56,128.92 390.68,122.39 390.80,93.56 391.16,-156.19 391.28,-138.14 391.52,56.54 391.76,133.46 391.88,137.20 392.00,135.90 392.48,122.48 392.72,119.13 392.96,121.54 393.44,133.26 393.80,138.84 394.52,145.71 394.88,147.54 395.24,148.32 395.84,148.67 397.16,148.86 397.64,147.62 398.00,145.63 398.72,148.44 399.08,149.14 399.32,149.34 401.60,149.39 402.80,149.27 403.28,148.93 403.64,147.93 403.88,145.85 404.12,139.87 404.72,90.11 405.20,125.96 405.56,141.89 405.80,145.77 406.16,148.05 406.64,148.98 407.36,149.33 409.88,149.47 419.72,149.48 420.68,149.23 420.92,148.97 421.16,148.37 421.52,145.34 421.76,138.15 422.24,91.77 422.36,90.98 422.84,128.73 423.20,142.85 423.44,146.25 423.80,148.26 424.28,149.09 425.00,149.41 427.16,149.54 436.88,149.55 437.96,149.44 438.44,149.07 438.80,147.80 439.04,144.80 439.52,123.81 439.64,122.60 440.36,144.84 440.60,147.32 440.84,148.43 441.08,148.96 441.44,149.30 441.80,149.44 443.24,149.56 453.20,149.60 454.16,149.51 454.64,149.28 454.88,148.92 455.12,148.03 455.48,143.00 455.96,120.86 456.08,121.28 456.68,142.51 456.92,146.20 457.16,147.90 457.40,148.71 457.64,149.11 458.00,149.39 459.08,149.59 467.36,149.65 468.32,149.58 468.80,149.39 469.04,149.14 469.28,148.54 469.64,145.46 470.24,120.28 470.36,119.93 470.84,137.82 471.20,145.55 471.44,147.58 471.80,148.83 472.28,149.38 473.00,149.59 481.40,149.68 482.24,149.52 482.72,148.99 483.08,147.29 483.32,143.70 483.92,120.54 484.52,140.09 484.88,146.27 485.12,147.92 485.48,148.97 485.96,149.45 486.68,149.65 493.16,149.69 493.88,149.38 494.24,148.66 494.48,147.27 494.72,143.68 495.32,121.84 495.92,140.14 496.28,146.24 496.52,147.91 496.88,148.99 497.36,149.49 498.08,149.70 503.60,149.76 504.32,149.51 504.68,148.95 505.04,146.87 505.28,142.65 505.76,124.95 505.88,125.24 506.00,127.82 506.48,142.19 506.84,146.97 507.08,148.30 507.44,149.18 507.92,149.60 508.64,149.79 512.96,149.83 513.56,149.60 513.92,149.04 514.16,147.98 514.40,145.36 515.00,129.40 515.60,141.95 515.96,146.87 516.20,148.29 516.56,149.24 517.04,149.68 517.88,149.89 521.36,149.90 521.84,149.70 522.20,149.13 522.44,148.06 522.68,145.44 523.16,135.24 523.28,135.40 523.40,136.83 523.88,145.17 524.24,148.14 524.48,148.99 524.84,149.58 525.32,149.86 526.16,150.00 529.04,150.00 529.52,149.82 529.88,149.28 530.24,147.28 530.72,140.16 530.84,139.85 531.44,146.31 531.80,148.62 532.04,149.30 532.40,149.77 532.88,150.00 533.84,150.12 536.24,150.11 536.72,149.95 536.96,149.68 537.32,148.46 537.92,143.61 538.64,148.27 539.00,149.45 539.36,149.90 539.72,150.08 541.16,150.24 543.08,150.24 543.80,149.95 544.16,149.13 544.52,147.08 544.64,146.57 544.76,146.54 545.60,149.56 545.96,150.02 546.68,150.28 548.96,150.37 549.80,150.24 550.28,149.60 550.76,148.02 551.00,148.26 551.72,149.96 552.08,150.25 552.68,150.41 554.72,150.48 555.56,150.35 555.92,149.98 556.52,148.60 557.36,150.10 557.72,150.37 558.32,150.52 578.48,151.39 611.96,151.19 645.80,150.68 668.84,149.51 682.40,148.40"/>
</g>
<g clip-path="url(#cC)" fill="none" stroke="#1a1a1a" stroke-width="0.85" stroke-linejoin="round">
<path d="M198.60,271.92 199.20,270.94 199.56,269.98 199.92,268.45 200.28,265.97 200.76,260.53 201.84,243.55 202.08,241.20 202.32,240.20 202.44,240.27 202.56,240.72 202.92,244.22 204.00,263.21 204.60,270.70 205.20,274.32 205.56,275.30 206.04,275.88 206.76,276.19 208.20,276.54 211.32,276.98 222.60,277.14 223.20,277.08 223.44,276.93 223.80,276.09 224.16,273.54 224.88,262.77 225.24,260.05 225.48,261.05 226.20,269.46 226.56,271.97 227.64,275.74 228.00,276.51 228.48,277.01 229.20,277.19 231.12,277.18 231.60,276.98 232.56,276.24 232.92,276.37 233.76,277.09 234.48,277.24 251.40,277.35 252.24,277.30 252.72,277.09 253.20,276.33 253.56,274.91 254.16,269.15 254.76,256.91 255.72,229.94 256.08,223.95 256.32,222.88 256.56,224.38 256.80,228.22 257.88,257.95 258.36,267.94 258.96,274.45 259.32,276.13 259.56,276.71 259.92,277.14 260.88,277.38 265.20,277.37 265.80,277.15 266.76,276.41 267.12,276.54 267.84,277.19 268.32,277.37 273.72,277.41 274.44,277.22 275.16,276.58 275.52,276.43 276.72,277.31 277.56,277.43 327.60,277.59 329.16,277.45 329.76,276.90 330.24,275.49 330.60,273.26 330.96,269.46 331.56,258.56 332.76,228.35 333.12,223.72 333.24,223.18 333.36,223.18 333.60,224.79 333.96,230.76 335.04,258.57 335.64,269.47 336.00,273.28 336.36,275.51 336.84,276.92 337.20,277.34 337.56,277.52 339.12,277.62 406.32,277.82 407.64,277.79 408.24,277.65 408.84,277.09 409.32,275.88 409.68,274.13 410.04,271.33 410.64,263.83 411.84,243.56 412.20,239.87 412.44,238.89 412.56,238.89 412.80,239.87 413.16,243.56 414.36,263.84 414.96,271.35 415.32,274.15 415.68,275.90 416.16,277.12 416.64,277.62 417.24,277.81 418.44,277.87 479.04,278.19 480.48,278.11 481.20,277.64 481.68,276.65 482.04,275.17 482.40,272.70 483.12,263.90 484.32,242.67 484.68,238.67 484.92,237.54 485.04,237.48 485.28,238.40 485.64,242.13 487.32,270.00 487.80,274.30 488.40,276.98 489.00,277.97 489.84,278.31 501.72,278.60"/>
<path d="M198.60,324.88 199.20,323.71 199.56,322.40 199.92,320.17 200.28,316.42 200.76,308.13 201.84,282.01 202.20,277.18 202.32,276.61 202.44,276.62 202.68,278.36 202.92,282.17 204.36,317.08 204.84,323.25 205.20,325.74 205.56,327.05 205.92,327.69 206.64,328.14 208.68,328.63 210.84,328.94 222.24,329.15 222.72,329.05 223.08,328.60 223.44,326.93 223.68,324.26 224.04,316.01 225.00,269.46 225.24,261.44 225.36,259.67 225.48,259.57 225.84,268.59 226.68,307.52 227.16,319.30 227.52,323.35 228.12,326.63 228.84,328.49 229.20,328.90 229.68,329.15 231.60,329.27 255.00,329.41 255.48,329.32 255.84,329.09 256.80,327.56 257.16,327.23 257.52,327.45 258.60,329.14 259.44,329.43 272.64,329.46 273.36,329.25 274.32,328.19 274.68,327.99 275.04,328.16 276.00,329.23 276.84,329.48 285.60,329.50 286.20,329.30 287.16,328.38 287.52,328.24 287.88,328.42 288.72,329.26 289.20,329.47 292.32,329.55 293.40,329.46 293.88,329.17 294.24,328.61 294.84,326.34 295.44,321.45 296.40,310.45 296.76,307.90 297.00,307.38 297.24,307.91 297.60,310.45 298.56,321.47 299.16,326.37 299.76,328.64 300.12,329.20 300.60,329.48 301.08,329.48 301.44,329.33 302.64,327.99 303.00,327.82 303.36,327.99 304.56,329.36 305.52,329.62 332.64,329.79 333.36,329.64 333.84,329.27 335.04,327.19 335.52,326.83 336.00,327.26 337.20,329.34 337.68,329.68 338.28,329.82 370.68,329.99 371.28,329.73 371.64,329.27 372.00,328.33 372.36,326.62 372.96,321.50 373.92,310.22 374.28,307.72 374.52,307.27 374.76,307.90 375.00,309.51 376.08,321.95 376.68,326.88 377.04,328.50 377.40,329.38 377.76,329.80 378.36,330.04 411.48,330.24 412.56,329.98 413.88,328.65 414.24,328.47 414.72,328.65 416.04,330.00 417.12,330.27 444.84,330.32 445.32,330.13 445.80,329.63 446.40,328.13 447.00,325.17 448.08,317.90 448.44,316.45 448.68,316.12 448.92,316.35 449.28,317.69 450.36,324.93 450.96,328.00 451.32,329.11 451.68,329.77 452.04,330.13 452.52,330.34 454.08,330.44 484.20,330.53 485.28,330.31 486.48,329.28 486.96,329.06 487.44,329.23 488.64,330.27 489.48,330.53 501.72,330.60"/>
<path d="M198.60,351.50 200.76,350.78 201.12,350.53 201.48,350.05 202.08,348.26 203.16,342.72 203.40,342.00 203.64,341.81 203.88,342.17 204.12,343.02 205.32,348.93 205.68,349.81 206.04,350.15 206.28,350.11 206.52,349.86 206.88,349.06 208.20,343.95 208.44,343.68 208.68,343.90 209.16,345.62 210.48,352.65 211.08,354.36 211.80,355.38 212.88,355.76 214.68,356.16 218.28,356.50 219.12,356.37 220.20,355.49 220.56,355.40 222.00,356.52 222.96,356.67 223.92,356.60 224.28,356.38 224.64,355.84 225.12,354.12 226.44,343.27 226.68,342.00 226.92,341.61 227.16,342.17 227.40,343.59 228.36,352.19 228.84,354.98 229.44,356.46 229.92,356.80 230.52,356.90 231.36,356.88 231.84,356.69 232.20,356.27 232.56,355.36 233.04,352.99 234.00,345.69 234.24,344.49 234.48,344.03 234.72,344.37 234.96,345.47 235.92,352.81 236.40,355.31 236.76,356.31 237.12,356.80 237.60,357.04 238.20,357.11 239.76,357.11 240.48,356.79 240.96,356.03 241.80,353.84 242.16,353.41 242.40,353.52 242.64,353.94 243.48,356.10 243.96,356.56 244.20,356.46 244.44,356.13 245.40,353.91 245.76,353.69 246.12,354.15 247.20,356.68 247.56,357.07 248.04,357.27 256.80,357.41 257.52,357.11 258.60,355.72 258.96,355.49 259.44,355.77 260.52,357.17 261.00,357.40 261.36,357.37 261.84,356.95 262.20,356.06 263.28,350.13 263.64,349.07 263.88,349.26 264.12,350.14 264.84,354.48 265.32,356.47 265.80,357.30 266.16,357.49 266.76,357.57 273.00,357.60 273.72,357.41 275.04,356.65 275.52,356.78 276.60,357.49 277.44,357.65 294.48,357.69 295.20,357.23 295.68,356.31 297.00,350.99 297.24,350.34 297.48,350.09 297.72,350.27 297.96,350.86 299.04,355.44 299.52,356.80 300.12,357.55 301.20,357.80 305.76,357.81 306.36,357.74 306.84,357.50 307.20,357.10 307.56,356.40 308.76,352.52 309.00,352.03 309.24,351.84 309.48,352.00 309.72,352.47 310.68,355.69 311.28,357.09 311.88,357.67 312.84,357.85 318.96,357.86 321.00,357.29 322.44,357.78 323.16,357.88 333.36,357.89 333.96,357.72 334.44,357.37 335.76,355.37 336.24,355.04 336.72,355.35 337.92,357.23 338.64,357.78 339.72,357.94 343.92,357.93 344.64,357.70 345.12,357.25 346.56,354.16 346.80,353.85 347.04,353.77 347.52,354.30 348.84,357.20 349.32,357.69 349.92,357.92 372.96,358.00 373.68,357.82 374.28,357.19 374.76,356.09 375.72,352.91 376.20,352.15 376.44,352.24 376.68,352.66 377.76,356.16 378.24,357.23 378.84,357.84 379.68,358.03 389.16,358.07 390.36,357.94 390.84,357.67 391.20,357.24 392.52,354.34 393.00,353.88 393.48,354.34 394.44,356.59 394.92,357.42 395.52,357.91 396.24,358.07 412.68,358.10 413.64,357.79 414.96,356.42 415.56,356.15 416.04,356.42 417.24,357.71 418.20,358.10 428.88,358.17 429.60,358.07 430.08,357.86 431.52,356.32 432.00,356.09 432.48,356.32 433.80,357.78 434.76,358.16 446.40,358.22 447.24,358.05 447.84,357.60 448.44,356.63 449.40,354.45 449.76,353.95 450.00,353.85 450.24,353.95 450.60,354.46 452.04,357.47 452.64,358.01 453.48,358.23 468.00,358.23 468.48,358.07 468.96,357.68 470.28,355.53 470.76,355.21 471.24,355.56 472.56,357.71 473.04,358.09 473.76,358.28 485.28,358.31 486.24,357.97 487.56,356.72 488.04,356.56 488.52,356.79 489.72,357.95 490.68,358.32 501.72,358.40"/>
</g>
<path d="M32.5,2.3 H334.4 V169.1 M32.5,2.3 V169.1 H334.4" fill="none" stroke="#333" stroke-width="1"/>
<path d="M377.6,2.2 H682.4 V168.8 M377.6,2.2 V168.8 H682.4" fill="none" stroke="#333" stroke-width="1"/>
<path d="M198.6,205.3 H501.8 V372.5 M198.6,205.3 V372.5 H501.8" fill="none" stroke="#333" stroke-width="1"/>
<path d="M32.50,166.9 V171.5 M66.70,166.9 V171.5 M100.90,166.9 V171.5 M135.10,166.9 V171.5 M169.30,166.9 V171.5 M203.50,166.9 V171.5 M237.70,166.9 V171.5 M271.90,166.9 V171.5 M306.10,166.9 V171.5 M39.34,169.1 V171.1 M46.18,169.1 V171.1 M53.02,169.1 V171.1 M59.86,169.1 V171.1 M73.54,169.1 V171.1 M80.38,169.1 V171.1 M87.22,169.1 V171.1 M94.06,169.1 V171.1 M107.74,169.1 V171.1 M114.58,169.1 V171.1 M121.42,169.1 V171.1 M128.26,169.1 V171.1 M141.94,169.1 V171.1 M148.78,169.1 V171.1 M155.62,169.1 V171.1 M162.46,169.1 V171.1 M176.14,169.1 V171.1 M182.98,169.1 V171.1 M189.82,169.1 V171.1 M196.66,169.1 V171.1 M210.34,169.1 V171.1 M217.18,169.1 V171.1 M224.02,169.1 V171.1 M230.86,169.1 V171.1 M244.54,169.1 V171.1 M251.38,169.1 V171.1 M258.22,169.1 V171.1 M265.06,169.1 V171.1 M278.74,169.1 V171.1 M285.58,169.1 V171.1 M292.42,169.1 V171.1 M299.26,169.1 V171.1 M312.94,169.1 V171.1 M319.78,169.1 V171.1 M326.62,169.1 V171.1 M334.40,169.1 V171.1 M30.1,169.10 H34.8 M30.1,132.10 H34.8 M30.1,95.10 H34.8 M30.1,58.10 H34.8 M30.1,21.10 H34.8 M30.5,159.85 H32.5 M30.5,150.60 H32.5 M30.5,141.35 H32.5 M30.5,122.85 H32.5 M30.5,113.60 H32.5 M30.5,104.35 H32.5 M30.5,85.85 H32.5 M30.5,76.60 H32.5 M30.5,67.35 H32.5 M30.5,48.85 H32.5 M30.5,39.60 H32.5 M30.5,30.35 H32.5 M30.5,11.85 H32.5" stroke="#333" stroke-width="0.8" fill="none"/>
<path d="M377.60,166.60000000000002 V171.20000000000002 M412.28,166.60000000000002 V171.20000000000002 M446.96,166.60000000000002 V171.20000000000002 M481.64,166.60000000000002 V171.20000000000002 M516.32,166.60000000000002 V171.20000000000002 M551.00,166.60000000000002 V171.20000000000002 M585.68,166.60000000000002 V171.20000000000002 M620.36,166.60000000000002 V171.20000000000002 M655.04,166.60000000000002 V171.20000000000002 M384.54,168.8 V170.8 M391.47,168.8 V170.8 M398.41,168.8 V170.8 M405.34,168.8 V170.8 M419.22,168.8 V170.8 M426.15,168.8 V170.8 M433.09,168.8 V170.8 M440.02,168.8 V170.8 M453.90,168.8 V170.8 M460.83,168.8 V170.8 M467.77,168.8 V170.8 M474.70,168.8 V170.8 M488.58,168.8 V170.8 M495.51,168.8 V170.8 M502.45,168.8 V170.8 M509.38,168.8 V170.8 M523.26,168.8 V170.8 M530.19,168.8 V170.8 M537.13,168.8 V170.8 M544.06,168.8 V170.8 M557.94,168.8 V170.8 M564.87,168.8 V170.8 M571.81,168.8 V170.8 M578.74,168.8 V170.8 M592.62,168.8 V170.8 M599.55,168.8 V170.8 M606.49,168.8 V170.8 M613.42,168.8 V170.8 M627.30,168.8 V170.8 M634.23,168.8 V170.8 M641.17,168.8 V170.8 M648.10,168.8 V170.8 M661.98,168.8 V170.8 M668.91,168.8 V170.8 M675.85,168.8 V170.8 M682.40,168.8 V170.8 M375.20000000000005,168.80 H379.90000000000003 M375.20000000000005,131.80 H379.90000000000003 M375.20000000000005,94.80 H379.90000000000003 M375.20000000000005,57.80 H379.90000000000003 M375.20000000000005,20.80 H379.90000000000003 M375.6,159.55 H377.6 M375.6,150.30 H377.6 M375.6,141.05 H377.6 M375.6,122.55 H377.6 M375.6,113.30 H377.6 M375.6,104.05 H377.6 M375.6,85.55 H377.6 M375.6,76.30 H377.6 M375.6,67.05 H377.6 M375.6,48.55 H377.6 M375.6,39.30 H377.6 M375.6,30.05 H377.6 M375.6,11.55 H377.6" stroke="#333" stroke-width="0.8" fill="none"/>
<path d="M198.80,370.3 V374.9 M276.40,370.3 V374.9 M354.00,370.3 V374.9 M431.60,370.3 V374.9 M214.32,372.5 V374.5 M229.84,372.5 V374.5 M245.36,372.5 V374.5 M260.88,372.5 V374.5 M291.92,372.5 V374.5 M307.44,372.5 V374.5 M322.96,372.5 V374.5 M338.48,372.5 V374.5 M369.52,372.5 V374.5 M385.04,372.5 V374.5 M400.56,372.5 V374.5 M416.08,372.5 V374.5 M447.12,372.5 V374.5 M462.64,372.5 V374.5 M478.16,372.5 V374.5 M493.68,372.5 V374.5 M196.2,372.50 H200.9 M196.2,345.80 H200.9 M196.2,319.10 H200.9 M196.2,292.40 H200.9 M196.2,265.70 H200.9 M196.2,239.00 H200.9 M196.2,212.30 H200.9 M196.6,365.82 H198.6 M196.6,359.15 H198.6 M196.6,352.48 H198.6 M196.6,339.12 H198.6 M196.6,332.45 H198.6 M196.6,325.77 H198.6 M196.6,312.43 H198.6 M196.6,305.75 H198.6 M196.6,299.07 H198.6 M196.6,285.73 H198.6 M196.6,279.05 H198.6 M196.6,272.38 H198.6 M196.6,259.02 H198.6 M196.6,252.35 H198.6 M196.6,245.68 H198.6 M196.6,232.33 H198.6 M196.6,225.65 H198.6 M196.6,218.97 H198.6 M196.6,205.62 H198.6" stroke="#333" stroke-width="0.8" fill="none"/>
<g font-family='"Liberation Sans", sans-serif' fill="#333">
<text x="25.2" y="172.0" font-size="8" text-anchor="end" font-weight="normal" fill="#333" textLength="11.8" lengthAdjust="spacingAndGlyphs"  stroke="#333" stroke-width="0.18">-40</text>
<text x="370.8" y="171.70000000000002" font-size="8" text-anchor="end" font-weight="normal" fill="#333" textLength="11.8" lengthAdjust="spacingAndGlyphs"  stroke="#333" stroke-width="0.18">-40</text>
<text x="25.2" y="135.0" font-size="8" text-anchor="end" font-weight="normal" fill="#333" textLength="7.9" lengthAdjust="spacingAndGlyphs"  stroke="#333" stroke-width="0.18">40</text>
<text x="370.8" y="134.70000000000002" font-size="8" text-anchor="end" font-weight="normal" fill="#333" textLength="7.9" lengthAdjust="spacingAndGlyphs"  stroke="#333" stroke-width="0.18">40</text>
<text x="25.2" y="98.0" font-size="8" text-anchor="end" font-weight="normal" fill="#333" textLength="11.8" lengthAdjust="spacingAndGlyphs"  stroke="#333" stroke-width="0.18">120</text>
<text x="370.8" y="97.70000000000002" font-size="8" text-anchor="end" font-weight="normal" fill="#333" textLength="11.8" lengthAdjust="spacingAndGlyphs"  stroke="#333" stroke-width="0.18">120</text>
<text x="25.2" y="60.99999999999999" font-size="8" text-anchor="end" font-weight="normal" fill="#333" textLength="11.8" lengthAdjust="spacingAndGlyphs"  stroke="#333" stroke-width="0.18">200</text>
<text x="370.8" y="60.70000000000001" font-size="8" text-anchor="end" font-weight="normal" fill="#333" textLength="11.8" lengthAdjust="spacingAndGlyphs"  stroke="#333" stroke-width="0.18">200</text>
<text x="25.2" y="23.999999999999993" font-size="8" text-anchor="end" font-weight="normal" fill="#333" textLength="11.8" lengthAdjust="spacingAndGlyphs"  stroke="#333" stroke-width="0.18">280</text>
<text x="370.8" y="23.70000000000001" font-size="8" text-anchor="end" font-weight="normal" fill="#333" textLength="11.8" lengthAdjust="spacingAndGlyphs"  stroke="#333" stroke-width="0.18">280</text>
<text x="32.5" y="182.3" font-size="8" text-anchor="middle" font-weight="normal" fill="#333" textLength="4" lengthAdjust="spacingAndGlyphs"  stroke="#333" stroke-width="0.18">0</text>
<text x="377.6" y="182.1" font-size="8" text-anchor="middle" font-weight="normal" fill="#333" textLength="4" lengthAdjust="spacingAndGlyphs"  stroke="#333" stroke-width="0.18">0</text>
<text x="66.7" y="182.3" font-size="8" text-anchor="middle" font-weight="normal" fill="#333" textLength="7.9" lengthAdjust="spacingAndGlyphs"  stroke="#333" stroke-width="0.18">10</text>
<text x="412.28000000000003" y="182.1" font-size="8" text-anchor="middle" font-weight="normal" fill="#333" textLength="7.9" lengthAdjust="spacingAndGlyphs"  stroke="#333" stroke-width="0.18">10</text>
<text x="100.9" y="182.3" font-size="8" text-anchor="middle" font-weight="normal" fill="#333" textLength="7.9" lengthAdjust="spacingAndGlyphs"  stroke="#333" stroke-width="0.18">20</text>
<text x="446.96000000000004" y="182.1" font-size="8" text-anchor="middle" font-weight="normal" fill="#333" textLength="7.9" lengthAdjust="spacingAndGlyphs"  stroke="#333" stroke-width="0.18">20</text>
<text x="135.10000000000002" y="182.3" font-size="8" text-anchor="middle" font-weight="normal" fill="#333" textLength="7.9" lengthAdjust="spacingAndGlyphs"  stroke="#333" stroke-width="0.18">30</text>
<text x="481.64" y="182.1" font-size="8" text-anchor="middle" font-weight="normal" fill="#333" textLength="7.9" lengthAdjust="spacingAndGlyphs"  stroke="#333" stroke-width="0.18">30</text>
<text x="169.3" y="182.3" font-size="8" text-anchor="middle" font-weight="normal" fill="#333" textLength="7.9" lengthAdjust="spacingAndGlyphs"  stroke="#333" stroke-width="0.18">40</text>
<text x="516.32" y="182.1" font-size="8" text-anchor="middle" font-weight="normal" fill="#333" textLength="7.9" lengthAdjust="spacingAndGlyphs"  stroke="#333" stroke-width="0.18">40</text>
<text x="203.5" y="182.3" font-size="8" text-anchor="middle" font-weight="normal" fill="#333" textLength="7.9" lengthAdjust="spacingAndGlyphs"  stroke="#333" stroke-width="0.18">50</text>
<text x="551.0" y="182.1" font-size="8" text-anchor="middle" font-weight="normal" fill="#333" textLength="7.9" lengthAdjust="spacingAndGlyphs"  stroke="#333" stroke-width="0.18">50</text>
<text x="237.70000000000002" y="182.3" font-size="8" text-anchor="middle" font-weight="normal" fill="#333" textLength="7.9" lengthAdjust="spacingAndGlyphs"  stroke="#333" stroke-width="0.18">60</text>
<text x="585.6800000000001" y="182.1" font-size="8" text-anchor="middle" font-weight="normal" fill="#333" textLength="7.9" lengthAdjust="spacingAndGlyphs"  stroke="#333" stroke-width="0.18">60</text>
<text x="271.90000000000003" y="182.3" font-size="8" text-anchor="middle" font-weight="normal" fill="#333" textLength="7.9" lengthAdjust="spacingAndGlyphs"  stroke="#333" stroke-width="0.18">70</text>
<text x="620.36" y="182.1" font-size="8" text-anchor="middle" font-weight="normal" fill="#333" textLength="7.9" lengthAdjust="spacingAndGlyphs"  stroke="#333" stroke-width="0.18">70</text>
<text x="306.1" y="182.3" font-size="8" text-anchor="middle" font-weight="normal" fill="#333" textLength="7.9" lengthAdjust="spacingAndGlyphs"  stroke="#333" stroke-width="0.18">80</text>
<text x="655.04" y="182.1" font-size="8" text-anchor="middle" font-weight="normal" fill="#333" textLength="7.9" lengthAdjust="spacingAndGlyphs"  stroke="#333" stroke-width="0.18">80</text>
<text x="191.8" y="375.0" font-size="8" text-anchor="end" font-weight="normal" fill="#333" textLength="12.2" lengthAdjust="spacingAndGlyphs"  stroke="#333" stroke-width="0.18">-20</text>
<text x="191.8" y="348.3" font-size="8" text-anchor="end" font-weight="normal" fill="#333" textLength="8.3" lengthAdjust="spacingAndGlyphs"  stroke="#333" stroke-width="0.18">20</text>
<text x="191.8" y="321.6" font-size="8" text-anchor="end" font-weight="normal" fill="#333" textLength="8.3" lengthAdjust="spacingAndGlyphs"  stroke="#333" stroke-width="0.18">60</text>
<text x="191.8" y="294.9" font-size="8" text-anchor="end" font-weight="normal" fill="#333" textLength="12.2" lengthAdjust="spacingAndGlyphs"  stroke="#333" stroke-width="0.18">100</text>
<text x="191.8" y="268.2" font-size="8" text-anchor="end" font-weight="normal" fill="#333" textLength="12.2" lengthAdjust="spacingAndGlyphs"  stroke="#333" stroke-width="0.18">140</text>
<text x="191.8" y="241.5" font-size="8" text-anchor="end" font-weight="normal" fill="#333" textLength="12.2" lengthAdjust="spacingAndGlyphs"  stroke="#333" stroke-width="0.18">180</text>
<text x="191.8" y="214.8" font-size="8" text-anchor="end" font-weight="normal" fill="#333" textLength="12.2" lengthAdjust="spacingAndGlyphs"  stroke="#333" stroke-width="0.18">220</text>
<text x="198.8" y="385.2" font-size="8" text-anchor="middle" font-weight="normal" fill="#333" textLength="4" lengthAdjust="spacingAndGlyphs"  stroke="#333" stroke-width="0.18">4</text>
<text x="276.4" y="385.2" font-size="8" text-anchor="middle" font-weight="normal" fill="#333" textLength="4" lengthAdjust="spacingAndGlyphs"  stroke="#333" stroke-width="0.18">9</text>
<text x="354.0" y="385.2" font-size="8" text-anchor="middle" font-weight="normal" fill="#333" textLength="8.0" lengthAdjust="spacingAndGlyphs"  stroke="#333" stroke-width="0.18">14</text>
<text x="431.6" y="385.2" font-size="8" text-anchor="middle" font-weight="normal" fill="#333" textLength="8.0" lengthAdjust="spacingAndGlyphs"  stroke="#333" stroke-width="0.18">19</text>
<text x="183.2" y="192.6" font-size="7.6" text-anchor="middle" font-weight="normal" fill="#333" textLength="68.9" lengthAdjust="spacingAndGlyphs"  stroke="#333" stroke-width="0.18">Retention Time (min)</text>
<text x="530.2" y="192.0" font-size="7.6" text-anchor="middle" font-weight="normal" fill="#333" textLength="68.9" lengthAdjust="spacingAndGlyphs"  stroke="#333" stroke-width="0.18">Retention Time (min)</text>
<text x="349.8" y="396.0" font-size="7.6" text-anchor="middle" font-weight="normal" fill="#333" textLength="68.0" lengthAdjust="spacingAndGlyphs"  stroke="#333" stroke-width="0.18">Retention Time (min)</text>
<text transform="translate(8.6,86.5) rotate(-90)" font-size="7.6" text-anchor="middle" fill="#333" stroke="#333" stroke-width="0.18" textLength="37" lengthAdjust="spacingAndGlyphs">Charge (nC)</text>
<text transform="translate(354.6,85.5) rotate(-90)" font-size="7.6" text-anchor="middle" fill="#333" stroke="#333" stroke-width="0.18" textLength="37" lengthAdjust="spacingAndGlyphs">Charge (nC)</text>
<text transform="translate(175.0,289) rotate(-90)" font-size="7.6" text-anchor="middle" fill="#333" stroke="#333" stroke-width="0.18" textLength="38" lengthAdjust="spacingAndGlyphs">Charge (nC)</text>
</g>
<g font-family='"Liberation Sans", sans-serif' fill="#111" font-weight="bold">
<text x="312.1" y="20.9" font-size="13.8" text-anchor="middle" font-weight="bold" fill="#111" textLength="18.4" lengthAdjust="spacingAndGlyphs" stroke="#111" stroke-width="0.55">(A)</text>
<text x="663.3" y="22.2" font-size="13.8" text-anchor="middle" font-weight="bold" fill="#111" textLength="18.5" lengthAdjust="spacingAndGlyphs" stroke="#111" stroke-width="0.55">(B)</text>
<text x="484.3" y="222.4" font-size="13.8" text-anchor="middle" font-weight="bold" fill="#111" textLength="17.5" lengthAdjust="spacingAndGlyphs" stroke="#111" stroke-width="0.55">(C)</text>
<text x="320.9" y="51.1" font-size="7.7" text-anchor="middle" font-weight="bold" fill="#222" textLength="9.0" lengthAdjust="spacingAndGlyphs" stroke="#222" stroke-width="0.15">5 h</text>
<text x="312.4" y="123.2" font-size="7.7" text-anchor="middle" font-weight="bold" fill="#222" textLength="22.7" lengthAdjust="spacingAndGlyphs" stroke="#222" stroke-width="0.15">30 min</text>
<text x="313.5" y="158.2" font-size="7.7" text-anchor="middle" font-weight="bold" fill="#222" textLength="18.0" lengthAdjust="spacingAndGlyphs" stroke="#222" stroke-width="0.15">5 min</text>
<text x="670.6" y="83.2" font-size="7.7" text-anchor="middle" font-weight="bold" fill="#222" textLength="9.6" lengthAdjust="spacingAndGlyphs" stroke="#222" stroke-width="0.15">5 h</text>
<text x="666.0" y="122.60000000000001" font-size="7.7" text-anchor="middle" font-weight="bold" fill="#222" textLength="22.0" lengthAdjust="spacingAndGlyphs" stroke="#222" stroke-width="0.15">30 min</text>
<text x="666.0" y="158.5" font-size="7.7" text-anchor="middle" font-weight="bold" fill="#222" textLength="18.0" lengthAdjust="spacingAndGlyphs" stroke="#222" stroke-width="0.15">5 min</text>
<text x="483.4" y="288.59999999999997" font-size="7.7" text-anchor="middle" font-weight="bold" fill="#222" textLength="26.7" lengthAdjust="spacingAndGlyphs" stroke="#222" stroke-width="0.15">6K-FOS</text>
<text x="482.5" y="339.9" font-size="7.7" text-anchor="middle" font-weight="bold" fill="#222" textLength="27.5" lengthAdjust="spacingAndGlyphs" stroke="#222" stroke-width="0.15">1K-FOS</text>
<text x="488.6" y="368.09999999999997" font-size="7.7" text-anchor="middle" font-weight="bold" fill="#222" textLength="16.2" lengthAdjust="spacingAndGlyphs" stroke="#222" stroke-width="0.15">SacB</text>
</g>
<g font-family='"Liberation Sans", sans-serif' fill="#555">
<text x="62.7" y="10.4" font-size="7" text-anchor="middle" font-weight="normal" fill="#333"  stroke="#333" stroke-width="0.18">IV</text>
<text x="72.6" y="27.6" font-size="7" text-anchor="middle" font-weight="normal" fill="#333"  stroke="#333" stroke-width="0.18">V</text>
<text x="91.5" y="38.6" font-size="7" text-anchor="middle" font-weight="normal" fill="#333"  stroke="#333" stroke-width="0.18">VI</text>
<text x="107.6" y="48.0" font-size="7" text-anchor="middle" font-weight="normal" fill="#333"  stroke="#333" stroke-width="0.18">VII</text>
<text x="123.0" y="51.4" font-size="7" text-anchor="middle" font-weight="normal" fill="#333"  stroke="#333" stroke-width="0.18">VIII</text>
<text x="135.2" y="53.9" font-size="7" text-anchor="middle" font-weight="normal" fill="#333"  stroke="#333" stroke-width="0.18">IX</text>
<text x="147.5" y="53.9" font-size="7" text-anchor="middle" font-weight="normal" fill="#333"  stroke="#333" stroke-width="0.18">X</text>
<text x="158.2" y="52.0" font-size="7" text-anchor="middle" font-weight="normal" fill="#333"  stroke="#333" stroke-width="0.18">XI</text>
<text x="173.9" y="52.0" font-size="7" text-anchor="middle" font-weight="normal" fill="#333"  stroke="#333" stroke-width="0.18">XIII</text>
<text x="189.4" y="52.0" font-size="7" text-anchor="middle" font-weight="normal" fill="#333"  stroke="#333" stroke-width="0.18">XV</text>
<text x="405.6" y="57.6" font-size="7" text-anchor="middle" font-weight="normal" fill="#333"  stroke="#333" stroke-width="0.18">IV</text>
<text x="422.3" y="60.5" font-size="7" text-anchor="middle" font-weight="normal" fill="#333"  stroke="#333" stroke-width="0.18">V</text>
<text x="439.6" y="62.0" font-size="7" text-anchor="middle" font-weight="normal" fill="#333"  stroke="#333" stroke-width="0.18">VI</text>
<text x="456.0" y="63.1" font-size="7" text-anchor="middle" font-weight="normal" fill="#333"  stroke="#333" stroke-width="0.18">VII</text>
<text x="471.5" y="63.8" font-size="7" text-anchor="middle" font-weight="normal" fill="#333"  stroke="#333" stroke-width="0.18">VIII</text>
<text x="484.4" y="63.1" font-size="7" text-anchor="middle" font-weight="normal" fill="#333"  stroke="#333" stroke-width="0.18">IX</text>
<text x="494.5" y="63.5" font-size="7" text-anchor="middle" font-weight="normal" fill="#333"  stroke="#333" stroke-width="0.18">X</text>
<text x="505.9" y="63.1" font-size="7" text-anchor="middle" font-weight="normal" fill="#333"  stroke="#333" stroke-width="0.18">XI</text>
<text x="523.4" y="60.9" font-size="7" text-anchor="middle" font-weight="normal" fill="#333"  stroke="#333" stroke-width="0.18">XIII</text>
<text x="539.2" y="60.9" font-size="7" text-anchor="middle" font-weight="normal" fill="#333"  stroke="#333" stroke-width="0.18">XV</text>
</g>
<ellipse cx="146.95" cy="26.3" rx="41.9" ry="12.3" fill="none" stroke="#222" stroke-width="1.0"/>
<text x="147.1" y="30.9" font-size="10.6" text-anchor="middle" font-weight="normal" fill="#222" textLength="30.7" lengthAdjust="spacingAndGlyphs" font-family='"Liberation Sans", sans-serif' stroke="#222" stroke-width="0.18">1K-FOS</text>
<ellipse cx="471.8" cy="36.9" rx="41.6" ry="11.7" fill="none" stroke="#222" stroke-width="1.0"/>
<text x="472" y="41.7" font-size="10.6" text-anchor="middle" font-weight="normal" fill="#222" textLength="31.2" lengthAdjust="spacingAndGlyphs" font-family='"Liberation Sans", sans-serif' stroke="#222" stroke-width="0.18">6K-FOS</text>
<path d="M237.1,215.6 H276.1" stroke="#444" stroke-width="1"/><polygon points="241.00,215.60 239.05,219.24 235.15,219.24 233.20,215.60 235.15,211.96 239.05,211.96" fill="#fff" stroke="#444" stroke-width="0.8"/><polygon points="250.00,212.40 253.90,215.23 252.41,219.82 247.59,219.82 246.10,215.23" fill="#000" stroke="#000" stroke-width="0.5" stroke-linejoin="round"/><polygon points="263.00,212.40 266.90,215.23 265.41,219.82 260.59,219.82 259.10,215.23" fill="#000" stroke="#000" stroke-width="0.5" stroke-linejoin="round"/><polygon points="276.10,212.40 280.00,215.23 278.51,219.82 273.69,219.82 272.20,215.23" fill="#000" stroke="#000" stroke-width="0.5" stroke-linejoin="round"/>
<path d="M313.0,216.2 H365.8" stroke="#444" stroke-width="1"/><polygon points="316.90,216.20 314.95,219.84 311.05,219.84 309.10,216.20 311.05,212.56 314.95,212.56" fill="#fff" stroke="#444" stroke-width="0.8"/><polygon points="326.25,212.90 330.15,215.73 328.66,220.32 323.84,220.32 322.35,215.73" fill="#000" stroke="#000" stroke-width="0.5" stroke-linejoin="round"/><polygon points="339.50,212.90 343.40,215.73 341.91,220.32 337.09,220.32 335.60,215.73" fill="#000" stroke="#000" stroke-width="0.5" stroke-linejoin="round"/><polygon points="352.40,212.90 356.30,215.73 354.81,220.32 349.99,220.32 348.50,215.73" fill="#000" stroke="#000" stroke-width="0.5" stroke-linejoin="round"/><polygon points="365.80,212.90 369.70,215.73 368.21,220.32 363.39,220.32 361.90,215.73" fill="#000" stroke="#000" stroke-width="0.5" stroke-linejoin="round"/>
<path d="M390.9,231.8 H460.1" stroke="#444" stroke-width="1"/><polygon points="394.80,231.80 392.85,235.44 388.95,235.44 387.00,231.80 388.95,228.16 392.85,228.16" fill="#fff" stroke="#444" stroke-width="0.8"/><polygon points="405.20,228.70 409.10,231.53 407.61,236.12 402.79,236.12 401.30,231.53" fill="#000" stroke="#000" stroke-width="0.5" stroke-linejoin="round"/><polygon points="419.00,228.70 422.90,231.53 421.41,236.12 416.59,236.12 415.10,231.53" fill="#000" stroke="#000" stroke-width="0.5" stroke-linejoin="round"/><polygon points="432.60,228.70 436.50,231.53 435.01,236.12 430.19,236.12 428.70,231.53" fill="#000" stroke="#000" stroke-width="0.5" stroke-linejoin="round"/><polygon points="446.40,228.70 450.30,231.53 448.81,236.12 443.99,236.12 442.50,231.53" fill="#000" stroke="#000" stroke-width="0.5" stroke-linejoin="round"/><polygon points="460.10,228.70 464.00,231.53 462.51,236.12 457.69,236.12 456.20,231.53" fill="#000" stroke="#000" stroke-width="0.5" stroke-linejoin="round"/>
<path d="M234.9,297.5 H248.8" stroke="#444" stroke-width="1"/><path d="M248.8,295.7 L250.3,289.1 H270.8" stroke="#444" stroke-width="0.9" fill="none"/><polygon points="238.80,297.50 236.85,301.14 232.95,301.14 231.00,297.50 232.95,293.86 236.85,293.86" fill="#fff" stroke="#444" stroke-width="0.8"/><polygon points="248.80,295.10 252.70,297.93 251.21,302.52 246.39,302.52 244.90,297.93" fill="#000" stroke="#000" stroke-width="0.5" stroke-linejoin="round"/><polygon points="257.40,286.50 261.30,289.33 259.81,293.92 254.99,293.92 253.50,289.33" fill="#000" stroke="#000" stroke-width="0.5" stroke-linejoin="round"/><polygon points="270.80,286.50 274.70,289.33 273.21,293.92 268.39,293.92 266.90,289.33" fill="#000" stroke="#000" stroke-width="0.5" stroke-linejoin="round"/>
<path d="M298.1,298.4 H311.6" stroke="#444" stroke-width="1"/><path d="M311.6,296.5 L313.1,290.1 H346.3" stroke="#444" stroke-width="0.9" fill="none"/><polygon points="302.00,298.40 300.05,302.04 296.15,302.04 294.20,298.40 296.15,294.76 300.05,294.76" fill="#fff" stroke="#444" stroke-width="0.8"/><polygon points="311.60,295.90 315.50,298.73 314.01,303.32 309.19,303.32 307.70,298.73" fill="#000" stroke="#000" stroke-width="0.5" stroke-linejoin="round"/><polygon points="320.00,287.50 323.90,290.33 322.41,294.92 317.59,294.92 316.10,290.33" fill="#000" stroke="#000" stroke-width="0.5" stroke-linejoin="round"/><polygon points="333.20,287.50 337.10,290.33 335.61,294.92 330.79,294.92 329.30,290.33" fill="#000" stroke="#000" stroke-width="0.5" stroke-linejoin="round"/><polygon points="346.30,287.50 350.20,290.33 348.71,294.92 343.89,294.92 342.40,290.33" fill="#000" stroke="#000" stroke-width="0.5" stroke-linejoin="round"/>
<path d="M376.2,298.2 H389.5" stroke="#444" stroke-width="1"/><path d="M389.5,296.3 L391.0,290.0 H436.8" stroke="#444" stroke-width="0.9" fill="none"/><polygon points="380.10,298.20 378.15,301.84 374.25,301.84 372.30,298.20 374.25,294.56 378.15,294.56" fill="#fff" stroke="#444" stroke-width="0.8"/><polygon points="389.50,295.70 393.40,298.53 391.91,303.12 387.09,303.12 385.60,298.53" fill="#000" stroke="#000" stroke-width="0.5" stroke-linejoin="round"/><polygon points="397.80,287.40 401.70,290.23 400.21,294.82 395.39,294.82 393.90,290.23" fill="#000" stroke="#000" stroke-width="0.5" stroke-linejoin="round"/><polygon points="410.50,287.40 414.40,290.23 412.91,294.82 408.09,294.82 406.60,290.23" fill="#000" stroke="#000" stroke-width="0.5" stroke-linejoin="round"/><polygon points="423.70,287.40 427.60,290.23 426.11,294.82 421.29,294.82 419.80,290.23" fill="#000" stroke="#000" stroke-width="0.5" stroke-linejoin="round"/><polygon points="436.80,287.40 440.70,290.23 439.21,294.82 434.39,294.82 432.90,290.23" fill="#000" stroke="#000" stroke-width="0.5" stroke-linejoin="round"/>
<g font-family='"Liberation Sans", sans-serif' fill="#222">
<text x="297" y="345.8" font-size="7.8" text-anchor="middle" font-weight="bold" fill="#222"  stroke="#222" stroke-width="0.22">4</text>
<text x="336.3" y="349.8" font-size="7.8" text-anchor="middle" font-weight="bold" fill="#222"  stroke="#222" stroke-width="0.22">5</text>
<text x="376.3" y="347.8" font-size="7.8" text-anchor="middle" font-weight="bold" fill="#222"  stroke="#222" stroke-width="0.22">6</text>
<text x="415.5" y="351.6" font-size="7.8" text-anchor="middle" font-weight="bold" fill="#222"  stroke="#222" stroke-width="0.22">7</text>
<text x="449.2" y="349.8" font-size="7.8" text-anchor="middle" font-weight="bold" fill="#222"  stroke="#222" stroke-width="0.22">8</text>
<text x="487.6" y="352.3" font-size="7.8" text-anchor="middle" font-weight="bold" fill="#222"  stroke="#222" stroke-width="0.22">9</text>
<text x="208.8" y="368.2" font-size="8.0" text-anchor="middle" font-weight="normal" fill="#333"  stroke="#333" stroke-width="0.18">1’</text>
<text x="234.6" y="368.2" font-size="8.0" text-anchor="middle" font-weight="normal" fill="#333"  stroke="#333" stroke-width="0.18">2’</text>
<text x="244.8" y="368.2" font-size="8.0" text-anchor="middle" font-weight="normal" fill="#333"  stroke="#333" stroke-width="0.18">3’</text>
<text x="264.3" y="368.59999999999997" font-size="8.0" text-anchor="middle" font-weight="normal" fill="#333"  stroke="#333" stroke-width="0.18">4’</text>
<text x="310.2" y="368.59999999999997" font-size="8.0" text-anchor="middle" font-weight="normal" fill="#333"  stroke="#333" stroke-width="0.18">5’</text>
<text x="347.2" y="368.59999999999997" font-size="8.0" text-anchor="middle" font-weight="normal" fill="#333"  stroke="#333" stroke-width="0.18">6’</text>
<text x="393.9" y="368.59999999999997" font-size="8.0" text-anchor="middle" font-weight="normal" fill="#333"  stroke="#333" stroke-width="0.18">7’</text>
<text x="432.2" y="368.4" font-size="8.0" text-anchor="middle" font-weight="normal" fill="#333"  stroke="#333" stroke-width="0.18">8’</text>
<text x="470.6" y="368.4" font-size="8.0" text-anchor="middle" font-weight="normal" fill="#333"  stroke="#333" stroke-width="0.18">9’</text>
<text x="205.0" y="341.0" font-size="7.8" text-anchor="middle" font-weight="normal" fill="#222" textLength="7.8" lengthAdjust="spacingAndGlyphs"  stroke="#222" stroke-width="0.18">nK</text>
<rect x="222.5" y="329.8" width="8.400000000000006" height="10.800000000000011" fill="#fff" stroke="#333" stroke-width="0.9"/>
<text x="226.7" y="338.00000000000006" font-size="7.6" text-anchor="middle" font-weight="bold" fill="#222"  stroke="#222" stroke-width="0.22">1</text>
<rect x="253.4" y="339.5" width="8.099999999999994" height="12.100000000000023" fill="#fff" stroke="#333" stroke-width="0.9"/>
<text x="257.45" y="348.35" font-size="7.6" text-anchor="middle" font-weight="bold" fill="#222"  stroke="#222" stroke-width="0.22">2</text>
<rect x="271.2" y="341.7" width="8.400000000000034" height="11.699999999999989" fill="#fff" stroke="#333" stroke-width="0.9"/>
<text x="275.4" y="350.34999999999997" font-size="7.6" text-anchor="middle" font-weight="bold" fill="#222"  stroke="#222" stroke-width="0.22">3</text>
</g>
<g font-family='"Liberation Sans", sans-serif' fill="#222">
<text x="525.4" y="228.8" font-size="10.4" text-anchor="start" font-weight="bold" fill="#111" textLength="95.8" lengthAdjust="spacingAndGlyphs"  stroke="#111" stroke-width="0.22">Product identification</text>
<text x="525.4" y="239.8" font-size="8.4" text-anchor="start" font-weight="normal" fill="#222" textLength="59.8" lengthAdjust="spacingAndGlyphs"  stroke="#222" stroke-width="0.18">nK: neo-kestose</text>
<text x="525.4" y="251.2" font-size="8.4" text-anchor="start" font-weight="normal" fill="#222" textLength="136.0" lengthAdjust="spacingAndGlyphs"  stroke="#222" stroke-width="0.18">1-9: Primary intermediates (1K- and</text>
<text x="525.4" y="262.6" font-size="8.4" text-anchor="start" font-weight="normal" fill="#222" textLength="30.1" lengthAdjust="spacingAndGlyphs"  stroke="#222" stroke-width="0.18">6K-FOS)</text>
<text x="525.4" y="274.0" font-size="8.4" text-anchor="start" font-weight="normal" fill="#222" textLength="116.6" lengthAdjust="spacingAndGlyphs"  stroke="#222" stroke-width="0.18">1’-9’: Secondary intermediates</text>
<rect x="525.4" y="290.4" width="71.6" height="51.2" fill="none" stroke="#333" stroke-width="0.9"/>
<path d="M545,307.6 H554.6" stroke="#333" stroke-width="0.9"/>
<polygon points="546.70,307.40 544.45,311.60 539.95,311.60 537.70,307.40 539.95,303.20 544.45,303.20" fill="#fff" stroke="#444" stroke-width="0.8"/>
<text x="550.8" y="305.8" font-size="6.4" text-anchor="middle" font-weight="normal" fill="#333"  stroke="#333" stroke-width="0.18">1</text>
<text x="561.0" y="310.2" font-size="8.4" text-anchor="start" font-weight="normal" fill="#333" textLength="30.0" lengthAdjust="spacingAndGlyphs"  stroke="#333" stroke-width="0.18">Glucose</text>
<path d="M532,331.2 H538.5 M546.5,331.2 H554.5 M542.6,328.5 L544.8,321.8" stroke="#333" stroke-width="0.9"/>
<polygon points="542.60,328.10 546.97,331.28 545.30,336.42 539.90,336.42 538.23,331.28" fill="#000" stroke="#000" stroke-width="0.5" stroke-linejoin="round"/>
<text x="534.6" y="330.2" font-size="6.4" text-anchor="middle" font-weight="normal" fill="#333"  stroke="#333" stroke-width="0.18">2</text>
<text x="541.4" y="324.2" font-size="6.4" text-anchor="middle" font-weight="normal" fill="#333"  stroke="#333" stroke-width="0.18">1</text>
<text x="550.2" y="330.2" font-size="6.4" text-anchor="middle" font-weight="normal" fill="#333"  stroke="#333" stroke-width="0.18">6</text>
<text x="562.0" y="334.4" font-size="8.4" text-anchor="start" font-weight="normal" fill="#333" textLength="32.0" lengthAdjust="spacingAndGlyphs"  stroke="#333" stroke-width="0.18">Fructose</text>
</g>
</svg>
</body></html>
